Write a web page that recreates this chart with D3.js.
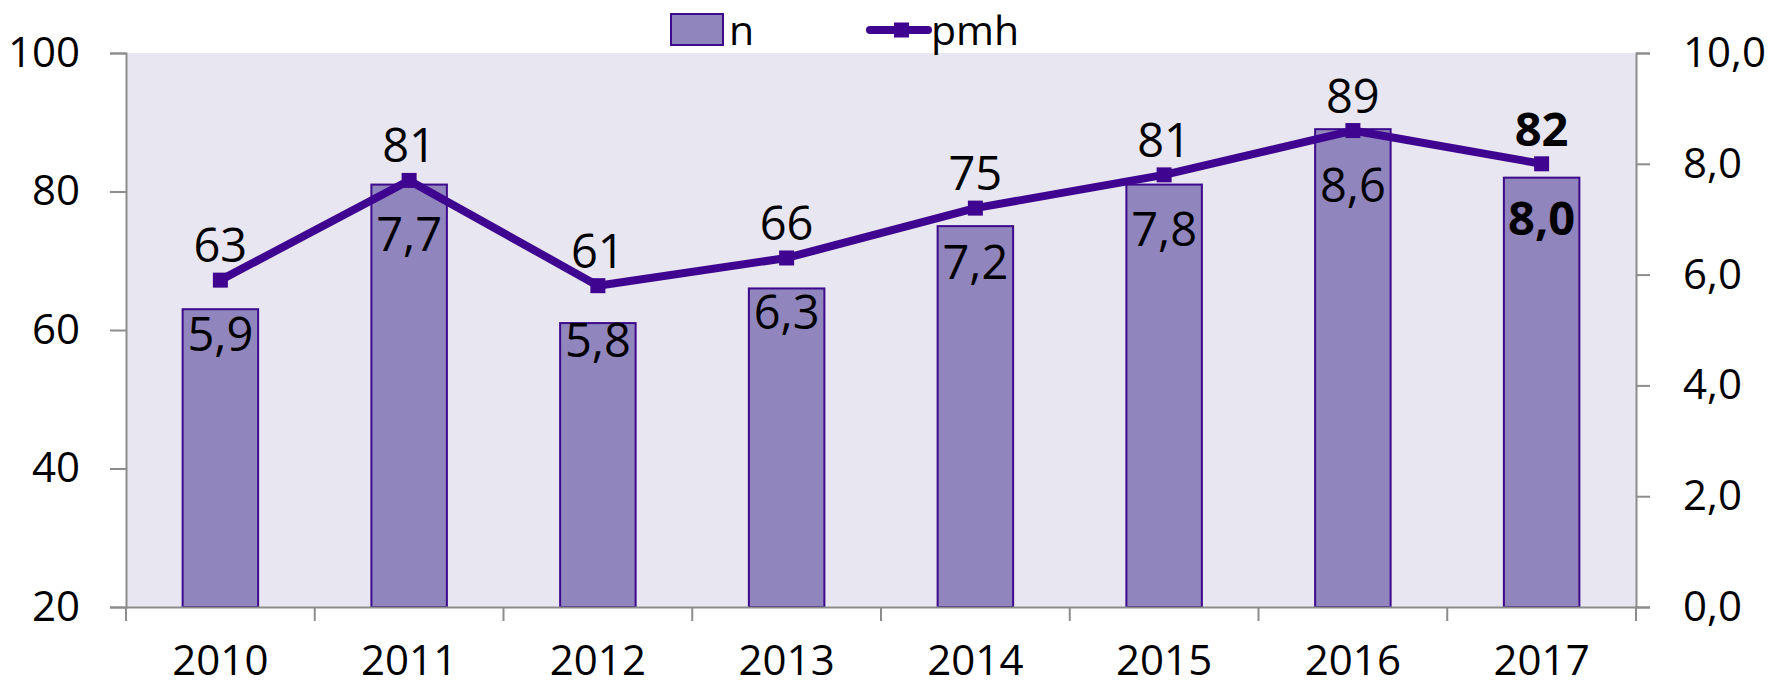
<!DOCTYPE html>
<html>
<head>
<meta charset="utf-8">
<script src="https://cdn.jsdelivr.net/npm/d3@7"></script>
<style>
body { margin: 0; background: #fff; }
text { font-family: "Open Sans", sans-serif; fill: #000; }
</style>
</head>
<body>
<div id="chart"></div>
<script>
var years = ["2010", "2011", "2012", "2013", "2014", "2015", "2016", "2017"];
var nValues = [63, 81, 61, 66, 75, 81, 89, 82];
var pmhValues = [5.9, 7.7, 5.8, 6.3, 7.2, 7.8, 8.6, 8.0];
var leftTicks = [20, 40, 60, 80, 100];
var rightTicks = [0, 2, 4, 6, 8, 10];

var barFill = "#9085bd", barStroke = "#3d0a8c", lineColor = "#3f0590", axisColor = "#8c8c8c";

var margin = {top: 53, right: 133, bottom: 79, left: 126};
var width = 1769 - margin.left - margin.right,
	height = 686 - margin.top - margin.bottom;

var svg = d3.select("#chart").append("svg")
	.attr("width", 1769)
	.attr("height", 686);

var g = svg.append("g")
	.attr("transform", "translate(" + margin.left + "," + margin.top + ")");

var x = d3.scaleBand()
	.domain(years)
	.range([0, width])
	.paddingInner(0.6)
	.paddingOuter(0.3);
var yLeft = d3.scaleLinear()
	.domain([20, 100])
	.range([height, 0]);
var yRight = d3.scaleLinear()
	.domain([0, 10])
	.range([height, 0]);

var comma = function (v) { return d3.format(".1f")(v).replace(".", ","); };

// plot background
g.append("rect")
	.attr("width", width)
	.attr("height", height)
	.attr("fill", "#e8e6f1");

// bars
g.selectAll(".bar")
	.data(nValues)
	.enter()
	.append("rect")
	.attr("class", "bar")
	.attr("x", function (d, i) { return x(years[i]); })
	.attr("y", function (d) { return yLeft(d); })
	.attr("width", x.bandwidth())
	.attr("height", function (d) { return height - yLeft(d); })
	.attr("fill", barFill)
	.attr("stroke", barStroke)
	.attr("stroke-width", 2);

// axes
var leftAxis = g.append("g")
	.call(d3.axisLeft(yLeft).tickValues(leftTicks).tickSize(16).tickPadding(30));
var rightAxis = g.append("g")
	.attr("transform", "translate(" + width + ",0)")
	.call(d3.axisRight(yRight).tickValues(rightTicks).tickSize(14).tickPadding(33).tickFormat(comma));
var bottomAxis = g.append("g")
	.attr("transform", "translate(0," + height + ")")
	.call(d3.axisBottom(x).tickSize(0).tickSizeOuter(0).tickPadding(38));

[leftAxis, rightAxis, bottomAxis].forEach(function (a) {
	a.selectAll("path, line").attr("stroke", axisColor).attr("stroke-width", 2);
	a.selectAll("text").style("font-size", "42px").attr("fill", "#000");
});

// category boundary ticks
var bounds = years.map(function (d) { return x(d) + x.bandwidth() / 2 - x.step() / 2; });
bounds.push(width);
g.selectAll(".btick")
	.data(bounds)
	.enter()
	.append("line")
	.attr("class", "btick")
	.attr("x1", function (d) { return d; })
	.attr("x2", function (d) { return d; })
	.attr("y1", height)
	.attr("y2", height + 14)
	.attr("stroke", axisColor)
	.attr("stroke-width", 2);

// pmh line
var cx = function (i) { return x(years[i]) + x.bandwidth() / 2; };
var line = d3.line()
	.x(function (d, i) { return cx(i); })
	.y(function (d) { return yRight(d); });

g.append("path")
	.datum(pmhValues)
	.attr("d", line)
	.attr("fill", "none")
	.attr("stroke", lineColor)
	.attr("stroke-width", 8)
	.attr("stroke-linejoin", "round");

g.selectAll(".marker")
	.data(pmhValues)
	.enter()
	.append("rect")
	.attr("class", "marker")
	.attr("x", function (d, i) { return cx(i) - 7.5; })
	.attr("y", function (d) { return yRight(d) - 7.5; })
	.attr("width", 15)
	.attr("height", 15)
	.attr("fill", lineColor);

// data labels
var last = years.length - 1;
g.selectAll(".nlabel")
	.data(nValues)
	.enter()
	.append("text")
	.attr("class", "nlabel")
	.attr("x", function (d, i) { return cx(i); })
	.attr("y", function (d, i) { return yRight(pmhValues[i]) - 18; })
	.attr("text-anchor", "middle")
	.style("font-size", "47px")
	.style("font-weight", function (d, i) { return i === last ? "bold" : "normal"; })
	.text(function (d) { return d; });

g.selectAll(".plabel")
	.data(pmhValues)
	.enter()
	.append("text")
	.attr("class", "plabel")
	.attr("x", function (d, i) { return cx(i); })
	.attr("y", function (d) { return yRight(d) + 71; })
	.attr("text-anchor", "middle")
	.style("font-size", "47px")
	.style("font-weight", function (d, i) { return i === last ? "bold" : "normal"; })
	.text(function (d) { return comma(d); });

// legend
var legend = svg.append("g");
legend.append("rect")
	.attr("x", 671).attr("y", 14)
	.attr("width", 52).attr("height", 31)
	.attr("fill", barFill)
	.attr("stroke", barStroke)
	.attr("stroke-width", 2);
legend.append("text")
	.attr("x", 729).attr("y", 45)
	.style("font-size", "41px")
	.text("n");
legend.append("line")
	.attr("x1", 870).attr("x2", 928)
	.attr("y1", 30).attr("y2", 30)
	.attr("stroke", lineColor)
	.attr("stroke-width", 8)
	.attr("stroke-linecap", "round");
legend.append("rect")
	.attr("x", 894).attr("y", 22.5)
	.attr("width", 15).attr("height", 15)
	.attr("fill", lineColor);
legend.append("text")
	.attr("x", 931).attr("y", 45)
	.style("font-size", "41px")
	.text("pmh");
</script>
</body>
</html>
